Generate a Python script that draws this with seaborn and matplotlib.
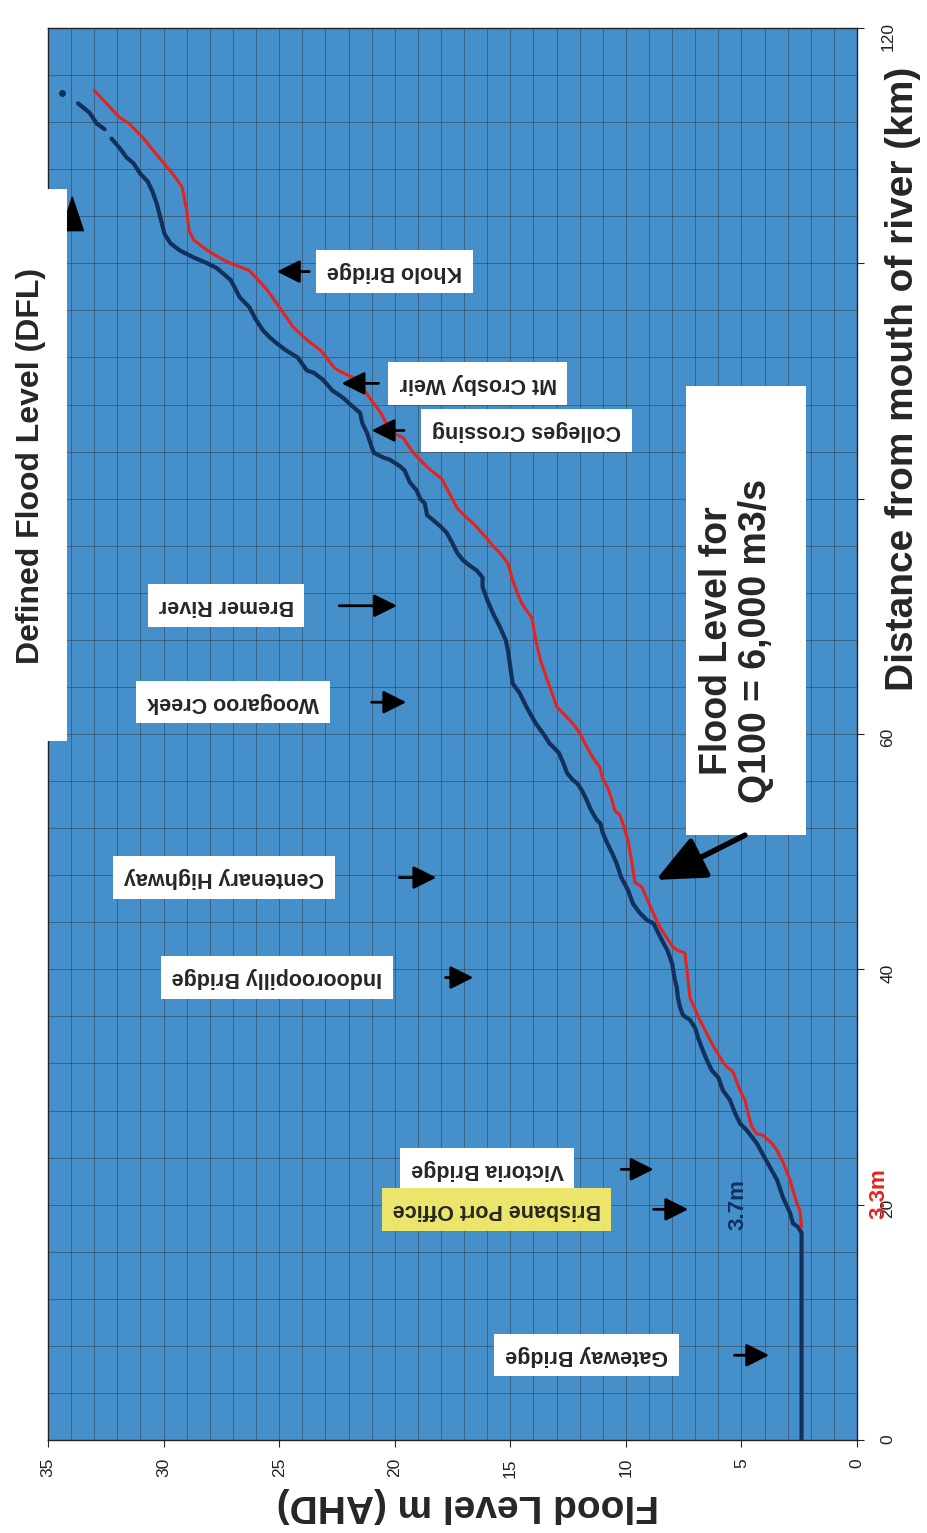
"""
Brisbane River flood profile: Q100 flood level vs Defined Flood Level (DFL).
Chart is drawn rotated (distance runs up the page, level runs right-to-left).
"""

import numpy as np
import pandas as pd
import matplotlib.pyplot as plt
import seaborn as sns
from matplotlib.patches import Rectangle

# ── Data (distance from mouth in km, flood level in m AHD) ─────────────────
q100_dist = [18.1, 19.5, 20.1, 22.1, 23.6, 24.6, 25.2, 25.9, 26.0, 26.6, 27.8, 28.9,
             29.7, 31.3, 31.7, 32.1, 33.7, 35.7, 37.6, 39.3, 41.4, 41.6, 41.9, 43.6,
             45.0, 47.0, 47.4, 48.7, 49.5, 51.0, 52.4, 53.1, 53.5, 54.4, 55.5, 56.2,
             57.2, 58.0, 58.9, 60.1, 60.9, 61.8, 62.3, 63.5, 64.6, 66.3, 68.0, 69.9,
             70.5, 71.1, 72.0, 73.1, 74.5, 75.4, 76.0, 76.6, 77.9, 78.4, 79.2, 80.7,
             81.7, 82.2, 82.7, 83.9, 85.2, 85.6, 86.1, 87.3, 88.6, 89.5, 90.3, 90.7,
             91.1, 92.6, 93.5, 94.6, 96.3, 97.7, 98.8, 99.4, 100.0, 100.5, 101.1, 102.0,
             102.8, 104.5, 106.5, 107.6, 109.0, 110.7, 111.9, 112.4, 114.7]
q100_level = [2.4, 2.47, 2.6, 2.9, 3.2, 3.46, 3.68, 4.07, 4.33, 4.55, 4.72, 4.85,
              5.06, 5.37, 5.63, 5.8, 6.28, 6.8, 7.23, 7.32, 7.45, 7.75, 7.97, 8.53,
              8.87, 9.31, 9.61, 9.74, 9.74, 9.91, 10.13, 10.26, 10.48, 10.6, 10.8, 11.0,
              11.13, 11.43, 11.69, 12.0, 12.3, 12.73, 12.99, 13.2, 13.4, 13.7, 13.9, 14.07,
              14.3, 14.5, 14.7, 14.9, 15.1, 15.45, 15.76, 16.0, 16.6, 16.9, 17.3, 17.7,
              17.97, 18.3, 18.6, 19.2, 19.65, 20.1, 20.3, 20.6, 21.1, 21.4, 21.8, 22.25,
              22.6, 23.2, 23.8, 24.4, 25.0, 25.5, 26.0, 26.3, 27.1, 27.6, 28.1, 28.7,
              28.9, 29.0, 29.2, 29.6, 30.2, 30.9, 31.5, 31.9, 33.0]

dfl_dist = [0.0, 17.6, 18.1, 18.4, 19.3, 20.6, 22.1, 23.2, 24.4, 25.2, 26.3, 26.9,
            27.8, 28.9, 29.7, 30.8, 31.4, 32.3, 33.1, 34.2, 35.0, 35.7, 36.1, 36.8,
            37.6, 38.5, 39.1, 40.5, 41.6, 42.7, 43.9, 44.2, 44.8, 45.6, 46.7, 47.8,
            49.0, 49.9, 50.7, 51.6, 52.4, 52.7, 53.5, 54.4, 55.2, 55.8, 56.1, 56.7,
            57.5, 58.4, 59.2, 60.1, 60.9, 62.3, 63.5, 64.3, 65.7, 67.1, 68.0, 69.1,
            70.3, 71.4, 72.5, 73.3, 73.9, 74.3, 74.8, 75.4, 76.2, 77.1, 77.7, 78.2,
            78.6, 79.6, 80.0, 80.7, 81.4, 82.4, 82.8, 83.3, 83.5, 83.9, 84.4, 85.6,
            86.4, 87.3, 87.8, 88.6, 89.2, 90.1, 90.7, 90.9, 92.0, 92.6, 93.2, 93.7,
            94.3, 95.2, 96.3, 97.1, 98.6, 99.1, 99.6, 100.0, 100.5, 101.1, 101.7, 102.5,
            103.6, 105.1, 106.2, 107.0, 107.6, 108.5, 109.0, 109.8, 110.6]
dfl_level = [2.4, 2.4, 2.55, 2.77, 2.9, 3.2, 3.46, 3.77, 4.11, 4.33, 4.76, 5.06,
             5.28, 5.5, 5.8, 6.0, 6.28, 6.5, 6.67, 6.88, 7.0, 7.23, 7.53, 7.66,
             7.75, 7.8, 7.88, 8.0, 8.2, 8.5, 8.8, 9.1, 9.4, 9.7, 9.9, 10.2,
             10.4, 10.6, 10.8, 11.0, 11.1, 11.26, 11.5, 11.7, 11.9, 12.1, 12.3, 12.55,
             12.7, 12.9, 13.3, 13.6, 13.9, 14.3, 14.6, 14.9, 15.0, 15.1, 15.2, 15.45,
             15.76, 16.0, 16.2, 16.2, 16.45, 16.75, 17.06, 17.3, 17.5, 17.75, 18.05, 18.35,
             18.6, 18.7, 18.9, 19.05, 19.35, 19.57, 19.8, 20.2, 20.5, 20.9, 21.0, 21.2,
             21.4, 21.5, 21.8, 22.25, 22.7, 23.1, 23.5, 23.8, 24.2, 24.7, 25.1, 25.4,
             25.7, 26.0, 26.3, 26.7, 27.1, 27.4, 27.7, 28.1, 28.7, 29.3, 29.7, 29.96,
             30.1, 30.3, 30.5, 30.7, 31.0, 31.3, 31.6, 31.9, 32.25]
# upstream piece of the DFL line after the small break
dfl_top_dist = [111.4, 111.9, 112.8, 113.6]
dfl_top_level = [32.55, 32.9, 33.2, 33.7]
dfl_point = (34.4, 114.5)  # (level, distance) isolated dot at top

# labelled locations: (name, distance km, text centre level, arrow tail level, arrow tip level)
places = [
    ("Kholo Bridge", 99.3, 20.0, 23.7, 25.1),
    ("Mt Crosby Weir", 89.8, 16.4, 20.7, 22.3),
    ("Colleges Crossing", 85.8, 14.3, 19.6, 21.0),
    ("Bremer River", 70.9, 27.3, 22.4, 19.9),
    ("Woogaroo Creek", 62.7, 27.0, 21.0, 19.5),
    ("Centenary Highway", 47.8, 27.4, 19.8, 18.2),
    ("Indooroopilly Bridge", 39.3, 25.1, 17.8, 16.6),
    ("Victoria Bridge", 23.0, 16.0, 10.2, 8.8),
    ("Brisbane Port Office", 19.6, 15.6, 8.8, 7.3),
    ("Gateway Bridge", 7.2, 11.7, 5.3, 3.8),
]

dist_ticks = [0, 20, 40, 60, 80, 100, 120]
dist_labels = ["0", "20", "40", "60", "", "", "120"]  # 80/100 sit under the axis title
level_ticks = [0, 5, 10, 15, 20, 25, 30, 35]

BG = "#4590cb"
RED = "#e8211b"
NAVY = "#13305c"

sns.set_style("ticks")
plt.rcParams["font.family"] = ["Liberation Sans", "DejaVu Sans"]

q100 = pd.DataFrame({"dist": q100_dist, "level": q100_level})
dfl = pd.concat([
    pd.DataFrame({"dist": dfl_dist, "level": dfl_level, "seg": 0}),
    pd.DataFrame({"dist": dfl_top_dist, "level": dfl_top_level, "seg": 1}),
])

fig = plt.figure(figsize=(9.27, 15.33), dpi=100)
ax = fig.add_axes([0.0518, 0.0607, 0.8727, 0.9210])
ax.set_facecolor(BG)

# ── Lines ────────────────────────────────────────────────────────────────────
sns.lineplot(data=dfl, x="level", y="dist", units="seg", estimator=None, sort=False,
             color=NAVY, lw=3.0, ax=ax, zorder=4)
sns.lineplot(data=q100, x="level", y="dist", sort=False, color=RED, lw=2.2, ax=ax, zorder=5)
ax.plot(*dfl_point, "o", color=NAVY, ms=4, zorder=5)

# ── Axes, grid ───────────────────────────────────────────────────────────────
ax.set_xlim(35, 0)
ax.set_ylim(0, 120)
ax.set_xticks(level_ticks)
ax.set_yticks(dist_ticks)
ax.set_yticklabels(dist_labels)
ax.set_xticks(np.arange(0, 36, 1), minor=True)
ax.set_yticks(np.arange(0, 121, 4), minor=True)
ax.grid(which="both", color="#2e3c48", lw=0.5, alpha=0.75)
ax.set_axisbelow(True)
ax.yaxis.tick_right()
ax.tick_params(axis="both", which="major", direction="out", length=5, width=0.8,
               labelsize=12.5, labelcolor="#222222", labelrotation=90)
ax.tick_params(axis="x", pad=8)
ax.tick_params(axis="y", pad=12)
ax.tick_params(which="minor", length=0)
ax.set_xlabel("")
ax.set_ylabel("")
for sp in ax.spines.values():
    sp.set_visible(True)
    sp.set_color("#222222")
    sp.set_linewidth(1)

fig.text(0.505, 0.018, "Flood Level m (AHD)", rotation=180, ha="center", va="center",
         fontsize=28, fontweight="bold")
fig.text(0.974, 0.753, "Distance from mouth of river (km)", rotation=90, ha="center",
         va="center", fontsize=28, fontweight="bold")

# ── Place labels with arrows ─────────────────────────────────────────────────
for name, d, lv, tail, tip in places:
    face = "#ece56c" if name == "Brisbane Port Office" else "white"
    ax.text(lv, d, name, rotation=180, ha="center", va="center", fontsize=15.5,
            fontweight="bold", zorder=6,
            bbox=dict(boxstyle="square,pad=0.5", fc=face, ec="none"))
    ax.annotate("", xy=(tip, d), xytext=(tail, d), zorder=6,
                arrowprops=dict(arrowstyle="-|>,head_length=0.7,head_width=0.35",
                                color="black", lw=2, mutation_scale=20,
                                shrinkA=0, shrinkB=0))

# Q100 box
ax.add_patch(Rectangle((7.4, 51.4), -5.2, 38.2, fc="white", ec="none", zorder=6))
ax.text(5.2, 67.9, "Flood Level for\nQ100 = 6,000 m3/s", rotation=90, ha="center",
        va="center", multialignment="center", fontsize=27, fontweight="bold",
        linespacing=1.1, zorder=7)
ax.annotate("", xy=(8.7, 47.6), xytext=(4.85, 51.4), zorder=7,
            arrowprops=dict(arrowstyle="-|>,head_length=1.0,head_width=0.45",
                            color="black", lw=4, mutation_scale=30,
                            shrinkA=0, shrinkB=0))

# DFL box (runs past the left edge of the plot)
ax.annotate("", xy=(33.95, 105.8), xytext=(33.95, 103.3), zorder=6,
            arrowprops=dict(arrowstyle="-|>,head_length=1.2,head_width=0.4",
                            color="black", lw=1, mutation_scale=20,
                            shrinkA=0, shrinkB=0))
ax.add_patch(Rectangle((37.2, 59.4), -3.0, 46.9, fc="white", ec="none", zorder=7,
                       clip_on=False))
ax.text(35.75, 82.8, "Defined Flood Level (DFL)", rotation=90, ha="center", va="center",
        fontsize=23, fontweight="bold", zorder=8, clip_on=False)

# levels at the Port Office
ax.text(5.15, 20.0, "3.7m", rotation=90, ha="center", va="center", fontsize=16,
        fontweight="bold", color=NAVY, zorder=6)
ax.text(-0.95, 20.9, "3.3m", rotation=90, ha="center", va="center", fontsize=16,
        fontweight="bold", color=RED, zorder=6, clip_on=False)

fig.savefig("out.png", dpi=100)
print("Saved: out.png")
